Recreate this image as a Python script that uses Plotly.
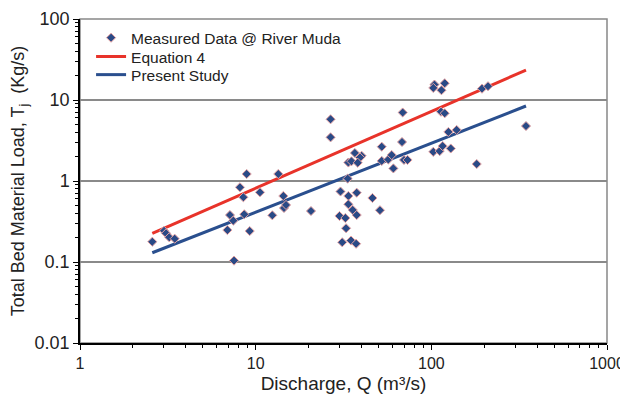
import plotly.graph_objects as go

measured_q = [2.58, 3.01, 3.09, 3.22, 3.46, 7.14, 6.90, 7.46, 7.53, 8.14,
              8.89, 8.51, 8.61, 9.25, 10.58, 13.45, 12.44, 14.37, 14.50, 14.89,
              20.65, 26.7, 26.7, 30.4, 33.7, 37.6, 46.2, 33.7, 35.7, 37.6,
              51.0, 30.0, 32.4, 32.7, 31.1, 34.9, 37.3, 33.4, 36.7, 40.1,
              39.3, 33.7, 35.1, 38.1, 52.2, 52.2, 56.9, 59.5, 60.8, 68.1,
              68.7, 69.9, 73.2, 104.2, 102.6, 119.2, 114.2, 194.3, 210.2, 113.5,
              119.2, 345.8, 125.0, 139.4, 102.6, 111.6, 116.0, 129.0, 181.3]
measured_t = [0.178, 0.243, 0.226, 0.202, 0.194, 0.380, 0.248, 0.324, 0.104, 0.836,
              1.22, 0.630, 0.388, 0.241, 0.725, 1.22, 0.377, 0.653, 0.464, 0.506,
              0.426, 5.78, 3.46, 0.742, 0.653, 0.717, 0.617, 0.516, 0.439, 0.380,
              0.436, 0.370, 0.349, 0.261, 0.175, 0.184, 0.168, 1.07, 2.22, 2.05,
              1.95, 1.69, 1.75, 1.68, 2.65, 1.77, 1.84, 2.09, 1.43, 3.03,
              7.01, 1.82, 1.82, 15.5, 14.1, 16.1, 13.2, 13.8, 14.8, 7.17,
              6.86, 4.77, 4.03, 4.27, 2.29, 2.34, 2.70, 2.52, 1.62]

# Fitted lines (end points)
eq4_q = [2.58, 345.8]
eq4_t = [0.226, 23.4]
present_q = [2.58, 345.8]
present_t = [0.130, 8.43]

x_tick_vals = [1, 10, 100, 1000]
x_tick_text = ["1", "10", "100", "1000"]
y_tick_vals = [0.01, 0.1, 1, 10, 100]
y_tick_text = ["0.01", "0.1", "1", "10", "100"]

x_minor = [m * 10 ** e for e in range(0, 3) for m in range(2, 10)]
y_minor = [m * 10.0 ** e for e in range(-2, 2) for m in range(2, 10)]

fig = go.Figure()
fig.add_trace(go.Scatter(
    x=eq4_q, y=eq4_t, mode="lines", name="Equation 4",
    line=dict(color="#e8332a", width=3), legend="legend2"))
fig.add_trace(go.Scatter(
    x=present_q, y=present_t, mode="lines", name="Present Study",
    line=dict(color="#2a4f8e", width=3), legend="legend3"))
fig.add_trace(go.Scatter(
    x=measured_q, y=measured_t, mode="markers", name="Measured Data @ River Muda",
    marker=dict(symbol="diamond", size=7, color="#2a4a86",
                line=dict(color="#e6a3a3", width=1)), legend="legend"))

axis_font = dict(family="Liberation Sans, Arial, sans-serif", color="#222")
leg_common = dict(x=0.021, xanchor="left", yanchor="middle",
                  bgcolor="rgba(0,0,0,0)", font=dict(size=15.5, color="#222"))

# The page body adds an 8px margin, so the figure is 8px smaller on each axis
fig.update_layout(
    width=620, height=392,
    margin=dict(l=72, r=21, t=11, b=57),
    paper_bgcolor="white", plot_bgcolor="white",
    font=axis_font,
    showlegend=True,
    legend=dict(y=0.941, **leg_common),
    legend2=dict(y=0.883, **leg_common),
    legend3=dict(y=0.827, **leg_common),
    shapes=[dict(type="rect", xref="paper", yref="paper", x0=0, y0=0, x1=1, y1=1,
                 line=dict(color="#888", width=1.5), layer="below")],
)

fig.update_xaxes(
    type="log", range=[0, 3], automargin=False,
    tickvals=x_tick_vals, ticktext=x_tick_text,
    tickfont=dict(size=16, color="#222"),
    ticks="outside", ticklen=5, tickcolor="black",
    showline=True, linecolor="black", linewidth=1.5,
    showgrid=False, zeroline=False,
    minor=dict(tickvals=x_minor, ticks="outside", ticklen=3, tickcolor="black", showgrid=False),
    title=dict(text="Discharge, Q (m\u00b3/s)", font=dict(size=19, color="#222"), standoff=6),
)
fig.update_yaxes(
    type="log", range=[-2, 2], automargin=False,
    tickvals=y_tick_vals, ticktext=y_tick_text,
    tickfont=dict(size=18, color="#222"),
    ticks="outside", ticklen=5, tickcolor="black",
    showline=True, linecolor="black", linewidth=1.5,
    showgrid=True, gridcolor="#8a8a8a", gridwidth=1.5, zeroline=False,
    minor=dict(tickvals=y_minor, ticks="outside", ticklen=3, tickcolor="black", showgrid=False),
    title=dict(text="Total Bed Material Load, T<sub>j</sub>\u00a0\u00a0(Kg/s)",
               font=dict(size=18, color="#222"), standoff=13),
)

fig.write_html("out.html", post_script="document.body.style.overflow='hidden';")
